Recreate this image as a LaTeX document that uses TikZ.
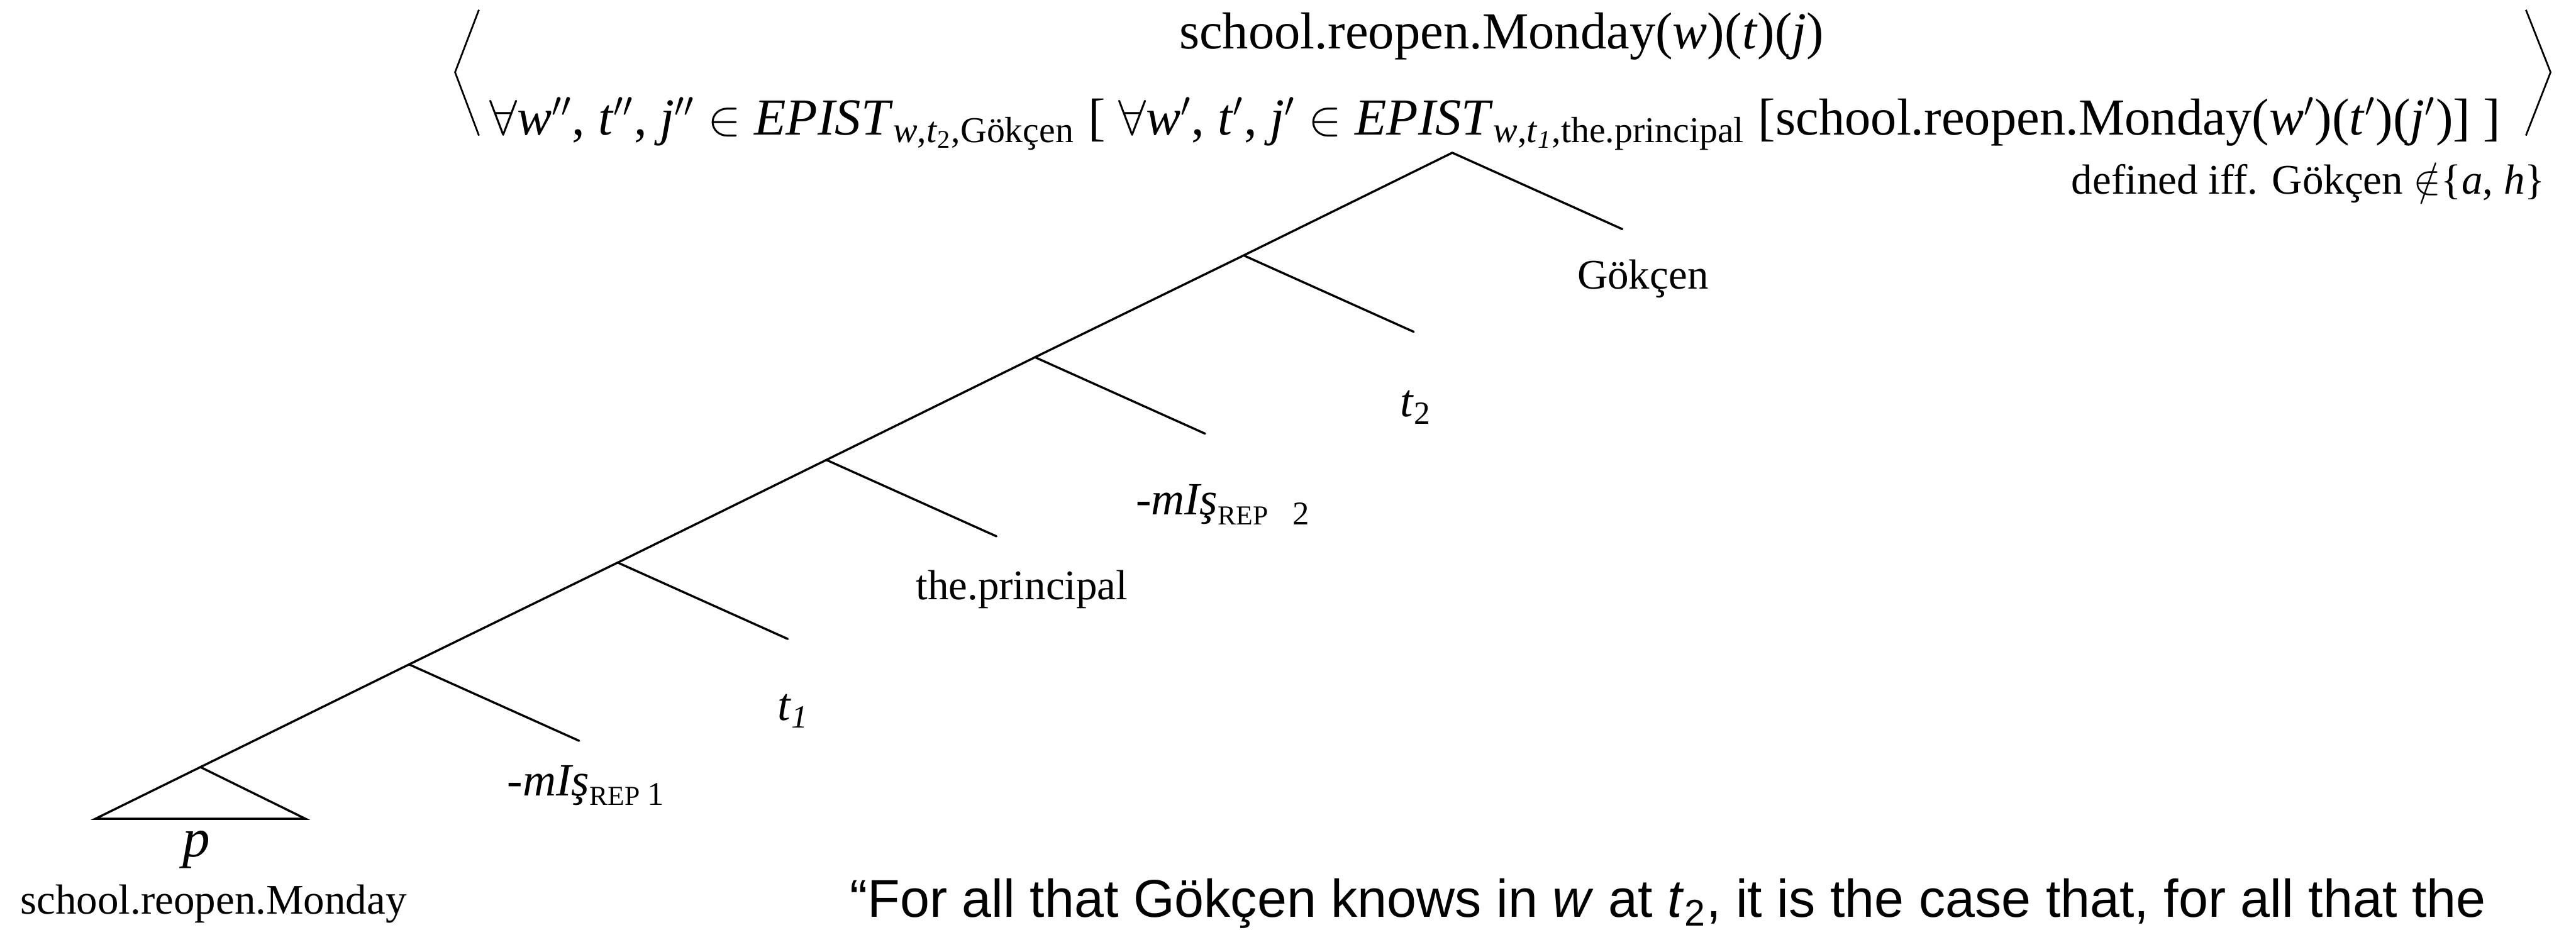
\documentclass[tikz,border=0pt]{standalone}
\usepackage{fontspec}
\setmainfont{Liberation Serif}
\newfontfamily\glossfont{Liberation Sans}
\usetikzlibrary{positioning}
\newcommand{\repidx}[1]{\raisebox{-0.45ex}{\fontsize{9.5}{11}\selectfont REP}\,\raisebox{-0.45ex}{\fontsize{11.5}{13}\selectfont #1}}

\begin{document}
\begin{tikzpicture}[x=1cm,y=1cm]
\tikzset{
  branch/.style={line width=0.75pt,line cap=round},
  anglebr/.style={line width=0.6pt},
  leaf/.style={anchor=base,inner sep=0pt,font=\fontsize{14.6}{17}\selectfont},
  tvar/.style={anchor=base,inner sep=0pt,font=\fontsize{16}{19}\selectfont},
  meaning/.style={anchor=base,inner sep=0pt,font=\fontsize{18}{22}\selectfont}
}
\useasboundingbox (0,0) rectangle (31.36,11.32);
\clip (0,0) rectangle (31.36,11.32);
% denotation at the root
\node[meaning] (m_top) at (18.28,10.73) {school.reopen.Monday(\textit{w})(\textit{t})(\textit{j})};
\node[meaning] (m_bot) at (18.20,9.68) {$\forall$\textit{w}$''$, \textit{t}$''$, \textit{j}$''$ $\in$ \textit{EPIST}\textsubscript{\textit{w},\textit{t}\textsubscript{2},Gökçen} [ $\forall$\textit{w}$'$, \textit{t}$'$, \textit{j}$'$ $\in$ \textit{EPIST}\textsubscript{\textit{w},\textit{t}\textsubscript{\textit{1}},the.principal} [school.reopen.Monday(\textit{w}$'$)(\textit{t}$'$)(\textit{j}$'$)] ]};
\node[leaf,anchor=base east] (m_def) at (30.99,8.96) {defined iff. Gökçen $\notin$\{\textit{a}, \textit{h}\}};
\coordinate (lb_t) at (5.83,11.20);
\coordinate (lb_m) at (5.54,10.44);
\coordinate (lb_b) at (5.83,9.67);
\coordinate (rb_t) at (30.75,11.20);
\coordinate (rb_m) at (31.05,10.44);
\coordinate (rb_b) at (30.75,9.67);
\draw[anglebr] (lb_t) -- (lb_m) -- (lb_b);
\draw[anglebr] (rb_t) -- (rb_m) -- (rb_b);
% spine
\coordinate (n_root) at (17.68,9.46);
\coordinate (n_s1) at (15.14,8.21);
\coordinate (n_s2) at (12.60,6.97);
\coordinate (n_s3) at (10.06,5.72);
\coordinate (n_s4) at (7.52,4.47);
\coordinate (n_s5) at (4.98,3.23);
\coordinate (n_s6) at (2.44,1.98);
% right daughters
\coordinate (e_root) at (19.75,8.53);
\coordinate (e_s1) at (17.21,7.28);
\coordinate (e_s2) at (14.67,6.04);
\coordinate (e_s3) at (12.13,4.79);
\coordinate (e_s4) at (9.59,3.54);
\coordinate (e_s5) at (7.05,2.30);
\coordinate (tri_l) at (1.16,1.35);
\coordinate (tri_r) at (3.72,1.35);
\draw[branch] (n_root) -- (n_s1) -- (n_s2) -- (n_s3) -- (n_s4) -- (n_s5) -- (n_s6);
\draw[branch] (n_root) -- (e_root);
\draw[branch] (n_s1) -- (e_s1);
\draw[branch] (n_s2) -- (e_s2);
\draw[branch] (n_s3) -- (e_s3);
\draw[branch] (n_s4) -- (e_s4);
\draw[branch] (n_s5) -- (e_s5);
\draw[branch,line join=miter] (n_s6) -- (tri_l) -- (tri_r) -- cycle;
% leaves
\node[leaf] (l_subj) at (20.00,7.80) {Gökçen};
\node[tvar] (l_t2) at (17.24,6.25) {\textit{t}\textsubscript{2}};
\node[leaf,anchor=base west,font=\fontsize{16}{19}\selectfont] (l_mis2) at (13.82,5.05) {\textit{-mIş}\repidx{\ \ 2}};
\node[leaf] (l_prin) at (12.44,4.02) {the.principal};
\node[tvar] (l_t1) at (9.66,2.55) {\textit{t}\textsubscript{\textit{1}}};
\node[leaf,anchor=base west,font=\fontsize{16}{19}\selectfont] (l_mis1) at (6.17,1.63) {\textit{-mIş}\repidx{1}};
\node[meaning,font=\fontsize{19}{22}\selectfont] (l_p) at (2.39,0.89) {\textit{p}};
\node[leaf] (l_prop) at (2.60,0.19) {school.reopen.Monday};
% paraphrase, cut at the lower edge
\node[anchor=base west,inner sep=0pt,font=\glossfont\fontsize{18.4}{22}\selectfont] (gloss) at (10.34,0.15) {“For all that Gökçen knows in \textit{w} at \textit{t}\textsubscript{2}, it is the case that, for all that the};
\end{tikzpicture}
\end{document}
